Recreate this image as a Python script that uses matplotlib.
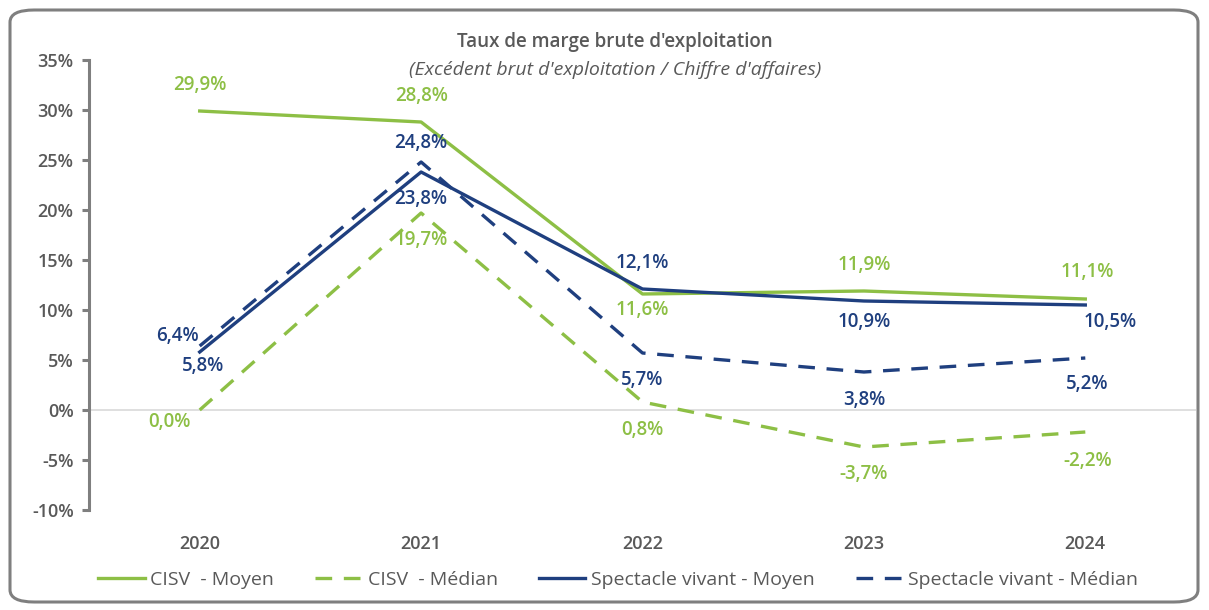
import matplotlib
matplotlib.use("Agg")
import matplotlib.pyplot as plt
from matplotlib.patches import FancyBboxPatch
from matplotlib.ticker import FuncFormatter

years = ["2020", "2021", "2022", "2023", "2024"]
cisv_moyen = [29.9, 28.8, 11.6, 11.9, 11.1]
cisv_median = [0.0, 19.7, 0.8, -3.7, -2.2]
sv_moyen = [5.8, 23.8, 12.1, 10.9, 10.5]
sv_median = [6.4, 24.8, 5.7, 3.8, 5.2]

GREEN = "#8DBF45"
BLUE = "#1F3F7F"
GRAY = "#595959"

plt.rcParams['font.family'] = ['Open Sans', 'DejaVu Sans']

fig = plt.figure(figsize=(12.09, 6.10), dpi=100)
ax = fig.add_axes([89/1209, 1-510/610, (1196-89)/1209, 450/610])

x = list(range(len(years)))
ax.plot(x, cisv_moyen, color=GREEN, lw=2.4, label="CISV  - Moyen")
ax.plot(x, cisv_median, color=GREEN, lw=2.4, ls=(0, (5, 3.5)), label="CISV  - Médian")
ax.plot(x, sv_moyen, color=BLUE, lw=2.4, label="Spectacle vivant - Moyen")
ax.plot(x, sv_median, color=BLUE, lw=2.4, ls=(0, (5, 3.5)), label="Spectacle vivant - Médian")

def fmt(v):
    return f"{v:.1f}".replace(".", ",") + "%"

# offsets in pixels (dx, dy), dy positive = up
offs = {
    "cm": [(0, 26), (0, 26), (0, -16), (0, 26), (2, 27)],
    "cd": [(-30, -12), (0, -27), (0, -28), (0, -27), (2, -29)],
    "sm": [(3, -14), (0, -27), (0, 26), (0, -21), (25, -17)],
    "sd": [(-22, 10), (0, 19), (0, -27), (0, -28), (2, -26)],
}
for key, vals, col in [("cm", cisv_moyen, GREEN), ("cd", cisv_median, GREEN),
                       ("sm", sv_moyen, BLUE), ("sd", sv_median, BLUE)]:
    for i, v in enumerate(vals):
        dx, dy = offs[key][i]
        ax.annotate(fmt(v), (i, v), xytext=(dx, dy), textcoords="offset pixels",
                    ha="center", va="center", color=col, fontsize=13.5, fontweight="semibold")

ax.set_xlim(-0.5, 4.5)
ax.set_ylim(-10, 35)
ax.set_yticks(range(-10, 36, 5))
ax.yaxis.set_major_formatter(FuncFormatter(lambda v, p: f"{int(v)}%"))
ax.set_xticks(x)
ax.set_xticklabels(years)
ax.axhline(0, color="#D9D9D9", lw=1.2, zorder=0)

for s in ["top", "right", "bottom"]:
    ax.spines[s].set_visible(False)
ax.spines["left"].set_color("#7F7F7F")
ax.spines["left"].set_linewidth(2.2)
ax.tick_params(axis="y", colors="#7F7F7F", width=2.2, length=5, labelcolor=GRAY, labelsize=13, pad=6)
ax.tick_params(axis="x", length=0, labelcolor=GRAY, labelsize=13, pad=18)
for t in ax.get_yticklabels() + ax.get_xticklabels():
    t.set_fontweight("semibold")

fig.text(615/1209, 1-42/610, "Taux de marge brute d'exploitation", ha="center", va="center",
         color=GRAY, fontsize=13.5, fontweight="semibold")
fig.text(615/1209, 1-70/610, "(Excédent brut d'exploitation / Chiffre d'affaires)", ha="center", va="center",
         color=GRAY, fontsize=14, style="italic")

leg = fig.legend(loc="center", bbox_to_anchor=(618/1209, 1-580/610), ncol=4, frameon=False,
                 fontsize=14, handlelength=2.4, columnspacing=2.1, handletextpad=0.3)
for t in leg.get_texts():
    t.set_color(GRAY)

border = FancyBboxPatch((10/1209, 8/610), 1188/1209, 592/610,
                        boxstyle="round,pad=0,rounding_size=0.02",
                        transform=fig.transFigure, fill=False, ec="#7F7F7F", lw=2.2)
fig.patches.append(border)

fig.savefig("out.png", dpi=100)
